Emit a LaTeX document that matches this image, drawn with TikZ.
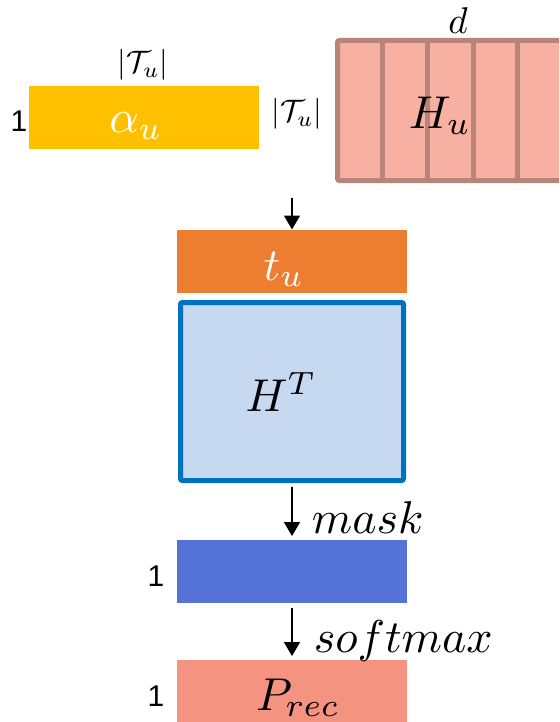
\documentclass[tikz,border=0pt]{standalone}
\usepackage{fontspec}
\newfontfamily\arialfont{Liberation Sans}
\usetikzlibrary{arrows.meta}
\definecolor{AlphaClr}{HTML}{FFC000}
\definecolor{HuFill}{HTML}{F7B0A2}
\definecolor{HuLine}{HTML}{B8847A}
\definecolor{TuClr}{HTML}{ED7D31}
\definecolor{HtFill}{HTML}{C6D9F0}
\definecolor{HtLine}{HTML}{0070C0}
\definecolor{MaskClr}{HTML}{5572D7}
\definecolor{PrecClr}{HTML}{F4937F}

\tikzset{
  vecbox/.style={minimum width=115pt,minimum height=31.5pt,inner sep=0pt,outer sep=0pt},
  biglbl/.style={scale=2.3,anchor=base,inner sep=0pt},
  dimlbl/.style={scale=1.55,inner sep=0pt},
  onelbl/.style={font=\arialfont\fontsize{15}{15}\selectfont,inner sep=0pt},
  flow/.style={line width=0.75pt,-{Stealth[length=7pt,width=8pt,inset=0pt]}}
}

\begin{document}
\begin{tikzpicture}[x=0.5pt,y=-0.5pt]
\clip (0,0) rectangle (559,722);

\node[vecbox,fill=AlphaClr] (alpha) at (144,117.5) {};
\node[minimum width=116.25pt,minimum height=70pt,inner sep=0pt,draw=HuLine,
  line width=2.5pt,fill=HuFill,rounded corners=1pt] (Hu) at (453.75,110.5) {};
\foreach \x in {382,427,473,517}
  \draw[HuLine,line width=2.5pt] (\x,40.5) -- (\x,180.5);

\node[biglbl,white] (alphatxt) at (136,133) {$\alpha_u$};
\node[biglbl] (Hutxt) at (440,128) {$H_u$};
\node[dimlbl] (alphadim) at (143,65) {$|\mathcal{T}_u|$};
\node[dimlbl] (Hudim) at (297,114) {$|\mathcal{T}_u|$};
\node[dimlbl,scale=1.2] (ddim) at (458,21) {$d$};
\node[onelbl] (alphaone) at (19,121) {1};

\node[vecbox,fill=TuClr] (tu) at (292,261) {};
\node[biglbl,white] (tutxt) at (284,280) {$t_u$};
\coordinate (intop) at (292,198);
\draw[flow] (intop) -- (tu.north);

\node[minimum width=111.5pt,minimum height=89pt,inner sep=0pt,draw=HtLine,
  line width=2.5pt,fill=HtFill,rounded corners=1pt] (Ht) at (292,391.5) {};
\node[biglbl] (Httxt) at (281,411) {$H^T$};

\node[vecbox,fill=MaskClr] (mask) at (292,571.5) {};
\node[onelbl] (maskone) at (156,576) {1};
\draw[flow,shorten <=2pt,shorten >=2pt] (Ht.south) -- (mask.north);
\node[biglbl,anchor=base west] (masktxt) at (311,533) {$mask$};

\node[vecbox,fill=PrecClr] (prec) at (292,691.5) {};
\node[onelbl] (precone) at (156,696) {1};
\node[biglbl] (prectxt) at (298,710) {$P_{rec}$};
\draw[flow,shorten <=2.5pt,shorten >=2pt] (mask.south) -- (prec.north);
\node[biglbl,anchor=base west] (softtxt) at (313,652) {$softmax$};

\end{tikzpicture}
\end{document}
